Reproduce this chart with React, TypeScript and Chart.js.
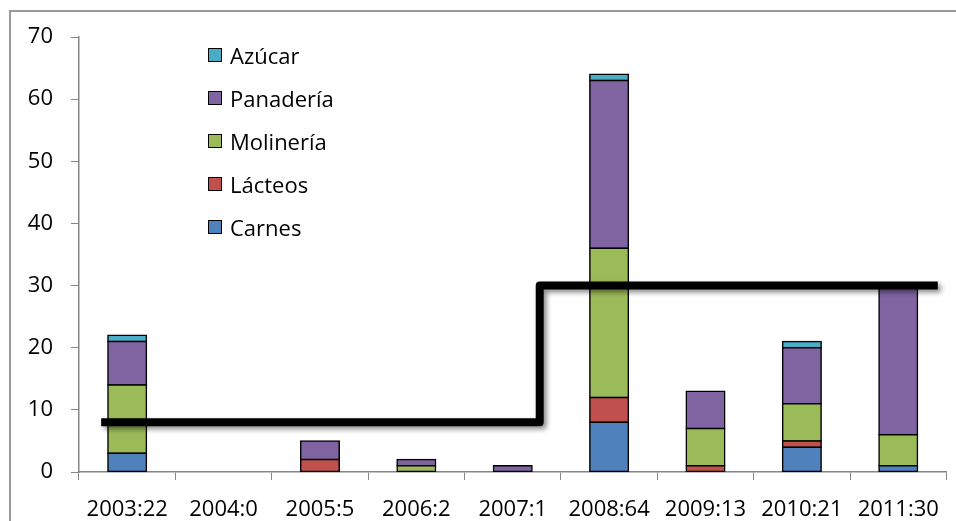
import React, { useEffect, useRef } from "react";
import { Chart, registerables } from "chart.js";

Chart.register(...registerables);

const categories = ["2003:22", "2004:0", "2005:5", "2006:2", "2007:1", "2008:64", "2009:13", "2010:21", "2011:30"];
const carnes = [3, 0, 0, 0, 0, 8, 0, 4, 1];
const lacteos = [0, 0, 2, 0, 0, 4, 1, 1, 0];
const molineria = [11, 0, 0, 1, 0, 24, 6, 6, 5];
const panaderia = [7, 0, 3, 1, 1, 27, 6, 9, 24];
const azucar = [1, 0, 0, 0, 0, 1, 0, 1, 0];
const stepX = [-0.27, 4.28, 4.28, 8.41];
const stepY = [8, 8, 30, 30];
const yTicks = [0, 10, 20, 30, 40, 50, 60, 70];

const FONT = "'Open Sans', sans-serif";

const series = [
  { label: "Carnes", data: carnes, color: "#4F81BD" },
  { label: "Lácteos", data: lacteos, color: "#C0504D" },
  { label: "Molinería", data: molineria, color: "#9BBB59" },
  { label: "Panadería", data: panaderia, color: "#8064A2" },
  { label: "Azúcar", data: azucar, color: "#4BACC6" },
];

const shadowPlugin = {
  id: "stepShadow",
  beforeDatasetDraw(chart: any, args: any) {
    if (chart.data.datasets[args.index].type === "line") {
      const ctx = chart.ctx;
      ctx.save();
      ctx.shadowColor = "rgba(0,0,0,0.45)";
      ctx.shadowBlur = 5;
      ctx.shadowOffsetX = 3;
      ctx.shadowOffsetY = 3;
    }
  },
  afterDatasetDraw(chart: any, args: any) {
    if (chart.data.datasets[args.index].type === "line") {
      chart.ctx.restore();
    }
  },
};

export default function App() {
  const ref = useRef<HTMLCanvasElement | null>(null);

  useEffect(() => {
    if (!ref.current) return;
    const barSets: any[] = series.map((s) => ({
      type: "bar",
      label: s.label,
      data: s.data.map((v) => (v === 0 ? null : v)),
      backgroundColor: s.color,
      borderColor: "#000000",
      borderWidth: 1.5,
      borderSkipped: false,
      inflateAmount: 0.75,
      categoryPercentage: 1,
      barPercentage: 0.4,
      grouped: false,
      order: 1,
    }));
    const lineSet: any = {
      type: "line",
      label: "umbral",
      data: stepX.map((x, i) => ({ x, y: stepY[i] })),
      xAxisID: "xl",
      borderColor: "#000000",
      borderWidth: 8,
      borderJoinStyle: "round",
      borderCapStyle: "butt",
      pointRadius: 0,
      fill: false,
      tension: 0,
      stack: "line",
      order: 0,
    };
    const chart = new Chart(ref.current, {
      type: "bar",
      data: { labels: categories, datasets: [...barSets, lineSet] },
      plugins: [shadowPlugin],
      options: {
        animation: false,
        responsive: false,
        maintainAspectRatio: false,
        layout: { padding: { top: 37, right: 2, left: 0, bottom: 0 } },
        plugins: { legend: { display: false }, tooltip: { enabled: false } },
        scales: {
          x: {
            type: "category",
            stacked: true,
            offset: true,
            grid: { display: true, drawOnChartArea: false, drawTicks: true, tickLength: 8, color: "#868686", offset: true },
            border: { display: true, color: "#868686", width: 1.5 },
            ticks: { color: "#000", font: { family: FONT, size: 22 }, padding: 17, maxRotation: 0, autoSkip: false },
            afterFit(scale: any) {
              scale.height = 49;
            },
          },
          xl: {
            type: "linear",
            display: false,
            offset: false,
            grid: { offset: false },
            min: -0.5,
            max: 8.5,
          },
          y: {
            type: "linear",
            stacked: true,
            min: 0,
            max: 70,
            afterBuildTicks(scale: any) {
              scale.ticks = yTicks.map((v) => ({ value: v }));
            },
            grid: { display: true, drawOnChartArea: false, drawTicks: true, tickLength: 8, color: "#868686" },
            border: { display: true, color: "#868686", width: 1.5 },
            ticks: { color: "#000", font: { family: FONT, size: 22 }, padding: 18 },
            afterFit(scale: any) {
              scale.width = 79;
            },
          },
        },
      } as any,
    });
    return () => chart.destroy();
  }, []);

  const legendRows = [...series].reverse();

  return (
    <div style={{ position: "absolute", left: 0, top: 0, width: 956, height: 521, background: "#fff", overflow: "hidden" }}>
      <div
        style={{
          position: "absolute",
          left: 9,
          top: 10,
          width: 1000,
          height: 600,
          borderLeft: "2px solid #9a9a9a",
          borderTop: "2px solid #9a9a9a",
        }}
      />
      <canvas ref={ref} width={956} height={521} style={{ position: "absolute", left: 0, top: 0, width: 956, height: 521 }} />
      {legendRows.map((s, i) => (
        <div
          key={s.label}
          style={{
            position: "absolute",
            left: 208,
            top: 55 + i * 43 - 15,
            height: 30,
            display: "flex",
            alignItems: "center",
            fontFamily: FONT,
            fontSize: 22,
            color: "#000",
            whiteSpace: "nowrap",
          }}
        >
          <span
            style={{
              display: "inline-block",
              width: 12,
              height: 12,
              background: s.color,
              border: "1.5px solid #000",
              marginRight: 8,
            }}
          />
          <span>{s.label}</span>
        </div>
      ))}
    </div>
  );
}
